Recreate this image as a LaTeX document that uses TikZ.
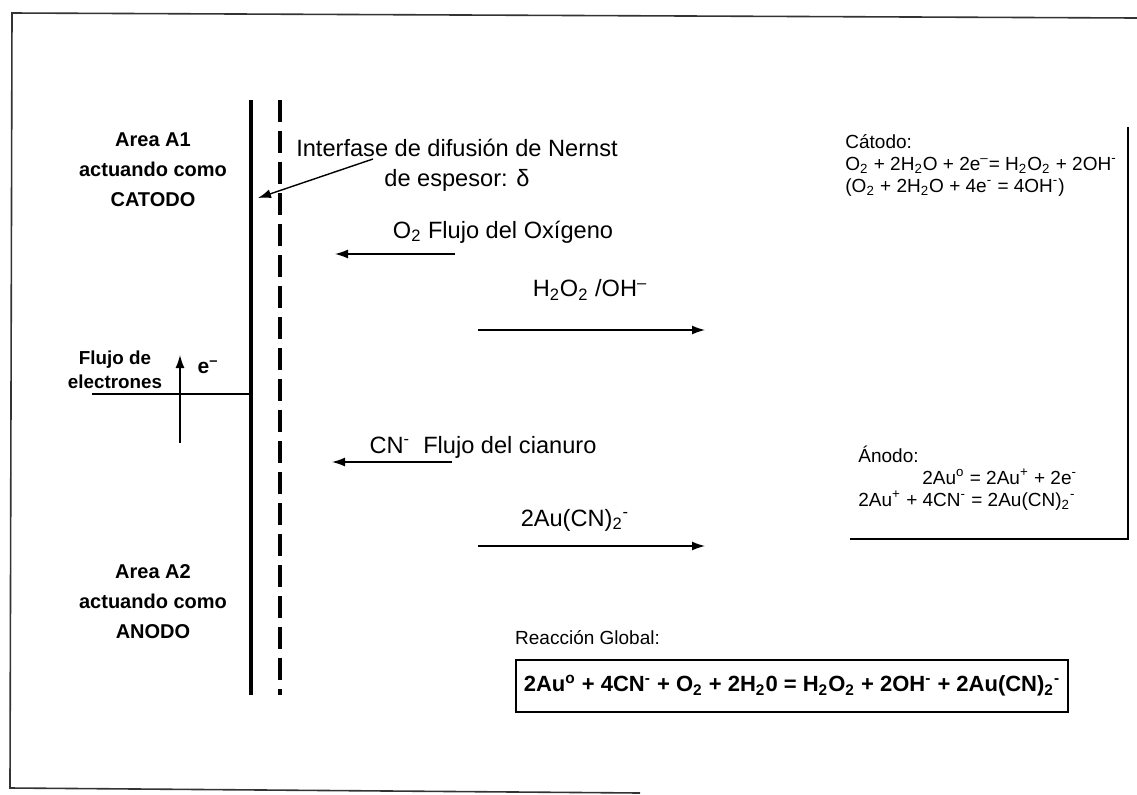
\documentclass[tikz,border=0pt]{standalone}
\usepackage{fontspec}
\setmainfont{Liberation Sans}
\usetikzlibrary{arrows.meta,positioning}
\newcommand{\chlo}[1]{\textsubscript{#1}}
\newcommand{\chhi}[1]{\textsuperscript{#1}}
\tikzset{
  electrode/.style={line width=2.4pt, draw=black},
  nernst/.style={line width=2pt, draw=black, dash pattern=on 11pt off 4.5pt},
  flow/.style={-{Latex[length=6.5pt,width=4.5pt]}, line width=.7pt},
  frameline/.style={line width=.8pt, draw=black!80},
  fluxtext/.style={font=\fontsize{11.8}{15}\selectfont, inner sep=0pt, align=center},
  areatext/.style={font=\bfseries\fontsize{10}{15}\selectfont, align=center, inner sep=0pt},
  eqtext/.style={font=\fontsize{9.5}{11}\selectfont, align=left, inner sep=0pt, anchor=west},
  globalbox/.style={draw, line width=1.2pt, font=\bfseries\fontsize{11}{13}\selectfont,
    minimum width=276pt, minimum height=26pt, inner sep=2pt}
}

\begin{document}
\begin{tikzpicture}[x=.5pt,y=-.5pt]
  \useasboundingbox (0,0) rectangle (1137,794);

  % outer frame (open on the right)
  \coordinate (fTR) at (1137,18);
  \coordinate (fTL) at (12,13);
  \coordinate (fBL) at (10,788);
  \coordinate (fBR) at (640,793);
  \draw[frameline] (fTR) -- (fTL) -- (fBL) -- (fBR);

  % electrode surface and Nernst layer
  \coordinate (e1top) at (251,100);
  \coordinate (e1bot) at (251,695);
  \coordinate (e2top) at (280,100);
  \coordinate (e2bot) at (280,695);
  \draw[electrode] (e1top) -- (e1bot);
  \draw[nernst] (e2top) -- (e2bot);

  \node[areatext] (area1) at (153,170) {Area A1\\actuando como\\CATODO};
  \node[areatext] (area2) at (153,602) {Area A2\\actuando como\\ANODO};

  % electron flow
  \node[areatext, font=\bfseries\fontsize{9.4}{12}\selectfont] (eflux) at (115,370) {Flujo de\\electrones};
  \coordinate (wireL) at (92,394);
  \coordinate (wireR) at (251,394);
  \draw[line width=.7pt] (wireL) -- (wireR);
  \coordinate (eup0) at (180,443);
  \coordinate (eup1) at (180,355);
  \draw[flow] (eup0) -- (eup1);
  \node[font=\bfseries\fontsize{10.5}{12}\selectfont, inner sep=0pt] (elec) at (208,367) {e\chhi{--}};

  % Nernst interface label
  \node[fluxtext] (interface) at (457,165) {Interfase de difusión de Nernst\\de espesor: δ};
  \coordinate (intTip) at (258,198);
  \draw[flow] ([xshift=-42pt,yshift=3pt]interface.center) -- (intTip);

  % oxygen flux
  \node[fluxtext] (o2lab) at (503,232) {O\chlo{2} Flujo del Oxígeno};
  \coordinate (o2a) at (455,254);
  \coordinate (o2b) at (335,254);
  \draw[flow] (o2a) -- (o2b);

  \node[fluxtext] (peroxlab) at (590,290) {H\chlo{2}O\chlo{2} /OH\chhi{--}};
  \coordinate (pxa) at (478,330);
  \coordinate (pxb) at (705,330);
  \draw[flow] (pxa) -- (pxb);

  % cyanide flux
  \node[fluxtext] (cnlab) at (483,447) {CN\chhi{-}\ \ Flujo del cianuro};
  \coordinate (cna) at (452,462);
  \coordinate (cnb) at (332,462);
  \draw[flow] (cna) -- (cnb);

  \node[fluxtext] (aulab) at (575,520) {2Au(CN)\chlo{2}\chhi{-}};
  \coordinate (aua) at (478,546);
  \coordinate (aub) at (705,546);
  \draw[flow] (aua) -- (aub);

  % half reactions
  \node[eqtext] (cathode) at (845,165) {Cátodo:\\
    O\chlo{2} + 2H\chlo{2}O + 2e\chhi{--}= H\chlo{2}O\chlo{2} + 2OH\chhi{-}\\
    (O\chlo{2} + 2H\chlo{2}O + 4e\chhi{-} = 4OH\chhi{-})};
  \node[eqtext] (anode) at (858,478) {Ánodo:\\
    \hspace*{32pt}2Au\chhi{o} = 2Au\chhi{+} + 2e\chhi{-}\\
    2Au\chhi{+} + 4CN\chhi{-} = 2Au(CN)\chlo{2}\chhi{-}};
  \coordinate (brTop) at (1128,127);
  \coordinate (brCorner) at (1128,539);
  \coordinate (brEnd) at (850,539);
  \draw[line width=.8pt] (brTop) -- (brCorner) -- (brEnd);

  % overall reaction
  \node[globalbox] (global) at (792,686) {2Au\chhi{o} + 4CN\chhi{-} + O\chlo{2} + 2H\chlo{2}0 = H\chlo{2}O\chlo{2} + 2OH\chhi{-} + 2Au(CN)\chlo{2}\chhi{-}};
  \node[eqtext, anchor=south west] (globlab) at ([yshift=7pt]global.north west) {Reacción Global:};
\end{tikzpicture}
\end{document}
